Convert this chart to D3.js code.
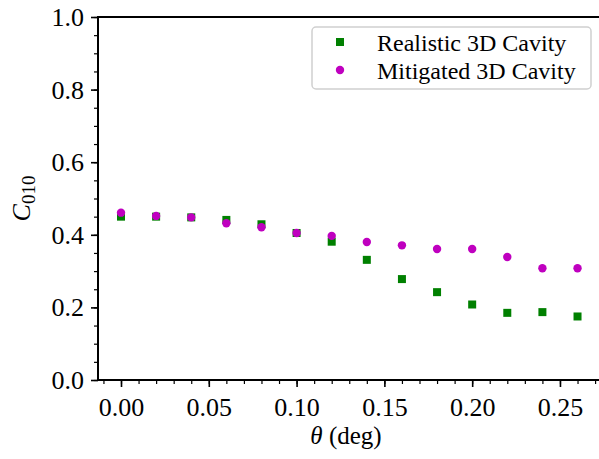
<!DOCTYPE html>
<html>
<head>
<meta charset="utf-8">
<script src="https://cdn.jsdelivr.net/npm/d3@7"></script>
<style>
body { margin: 0; background: #fff; }
text { font-family: "Liberation Serif", "DejaVu Serif", serif; fill: #000; }
</style>
</head>
<body>
<svg id="chart" width="599" height="459"></svg>
<script>
// angles (deg)
var theta = [0.00, 0.02, 0.04, 0.06, 0.08, 0.10, 0.12, 0.14, 0.16, 0.18, 0.20, 0.22, 0.24, 0.26];
var realistic = [0.450, 0.450, 0.448, 0.441, 0.429, 0.405, 0.381, 0.331, 0.278, 0.242, 0.208, 0.185, 0.187, 0.175];
var mitigated = [0.461, 0.452, 0.448, 0.432, 0.421, 0.405, 0.397, 0.380, 0.371, 0.361, 0.361, 0.339, 0.308, 0.308];
var xTicks = [0.00, 0.05, 0.10, 0.15, 0.20, 0.25];
var yTicks = [0.0, 0.2, 0.4, 0.6, 0.8, 1.0];
var seriesNames = ["Realistic 3D Cavity", "Mitigated 3D Cavity"];

var plotLeft = 98, plotRight = 600, plotTop = 17, plotBottom = 380;
var svg = d3.select("#chart");

var x = d3.scaleLinear().domain([-0.0131, 0.2728]).range([plotLeft, plotRight]);
var y = d3.scaleLinear().domain([0, 1]).range([plotBottom, plotTop]);

var xMinor = d3.range(-1, 28).map(function(i){ return i / 100; });
var yMinor = d3.range(0, 21).map(function(i){ return i / 20; });

// minor ticks
svg.append("g")
    .attr("transform", "translate(0," + plotBottom + ")")
    .call(d3.axisBottom(x).tickValues(xMinor).tickSize(4).tickFormat(""))
    .call(function(g){ g.select(".domain").remove(); g.selectAll("line").attr("stroke-width", 1.2); });
svg.append("g")
    .attr("transform", "translate(" + plotLeft + ",0)")
    .call(d3.axisLeft(y).tickValues(yMinor).tickSize(4).tickFormat(""))
    .call(function(g){ g.select(".domain").remove(); g.selectAll("line").attr("stroke-width", 1.2); });

// major ticks
var xAxis = svg.append("g")
    .attr("transform", "translate(0," + plotBottom + ")")
    .call(d3.axisBottom(x).tickValues(xTicks).tickSize(7).tickPadding(6).tickFormat(d3.format(".2f")));
xAxis.select(".domain").remove();
xAxis.selectAll("line").attr("stroke-width", 1.6);
xAxis.selectAll("text").attr("font-size", 26).attr("font-family", "Liberation Serif").attr("dy", "0.9em");

var yAxis = svg.append("g")
    .attr("transform", "translate(" + plotLeft + ",0)")
    .call(d3.axisLeft(y).tickValues(yTicks).tickSize(7).tickPadding(7).tickFormat(d3.format(".1f")));
yAxis.select(".domain").remove();
yAxis.selectAll("line").attr("stroke-width", 1.6);
yAxis.selectAll("text").attr("font-size", 26).attr("font-family", "Liberation Serif").attr("dy", "0.33em");

// spines
svg.append("line").attr("x1", plotLeft).attr("x2", plotLeft).attr("y1", plotTop).attr("y2", plotBottom)
    .attr("stroke", "#000").attr("stroke-width", 2);
svg.append("line").attr("x1", plotLeft - 1).attr("x2", plotRight).attr("y1", plotTop).attr("y2", plotTop)
    .attr("stroke", "#000").attr("stroke-width", 2);
svg.append("line").attr("x1", plotLeft - 1).attr("x2", plotRight).attr("y1", plotBottom).attr("y2", plotBottom)
    .attr("stroke", "#000").attr("stroke-width", 2);

// points
svg.append("g").selectAll("rect")
    .data(theta.map(function(t, i){ return [t, realistic[i]]; }))
    .enter().append("rect")
    .attr("x", function(d){ return x(d[0]) - 4; })
    .attr("y", function(d){ return y(d[1]) - 4; })
    .attr("width", 8).attr("height", 8)
    .attr("fill", "#008000");

svg.append("g").selectAll("circle")
    .data(theta.map(function(t, i){ return [t, mitigated[i]]; }))
    .enter().append("circle")
    .attr("cx", function(d){ return x(d[0]); })
    .attr("cy", function(d){ return y(d[1]); })
    .attr("r", 4.2)
    .attr("fill", "#bf00bf");

// legend
var lg = svg.append("g");
lg.append("rect").attr("x", 312).attr("y", 27).attr("width", 279).attr("height", 62)
    .attr("rx", 4).attr("fill", "#fff").attr("fill-opacity", 0.8)
    .attr("stroke", "#d0d0d0").attr("stroke-width", 1.5);
lg.append("rect").attr("x", 336).attr("y", 38).attr("width", 8).attr("height", 8).attr("fill", "#008000");
lg.append("circle").attr("cx", 340).attr("cy", 70).attr("r", 4.2).attr("fill", "#bf00bf");
lg.selectAll("text.lab").data(seriesNames).enter().append("text")
    .attr("class", "lab")
    .attr("x", 377)
    .attr("y", function(d, i){ return 43 + i * 28; })
    .attr("dy", "0.35em")
    .attr("font-size", 24)
    .text(function(d){ return d; });

// axis labels
var xl = svg.append("text").attr("x", 346).attr("y", 444).attr("text-anchor", "middle").attr("font-size", 25);
xl.append("tspan").attr("font-style", "italic").text("θ");
xl.append("tspan").text(" (deg)");

var yl = svg.append("text").attr("transform", "translate(30,198.5) rotate(-90)").attr("text-anchor", "middle").attr("font-size", 26);
yl.append("tspan").attr("font-style", "italic").text("C");
yl.append("tspan").attr("font-size", 19).attr("dy", 5).text("010");
</script>
</body>
</html>
